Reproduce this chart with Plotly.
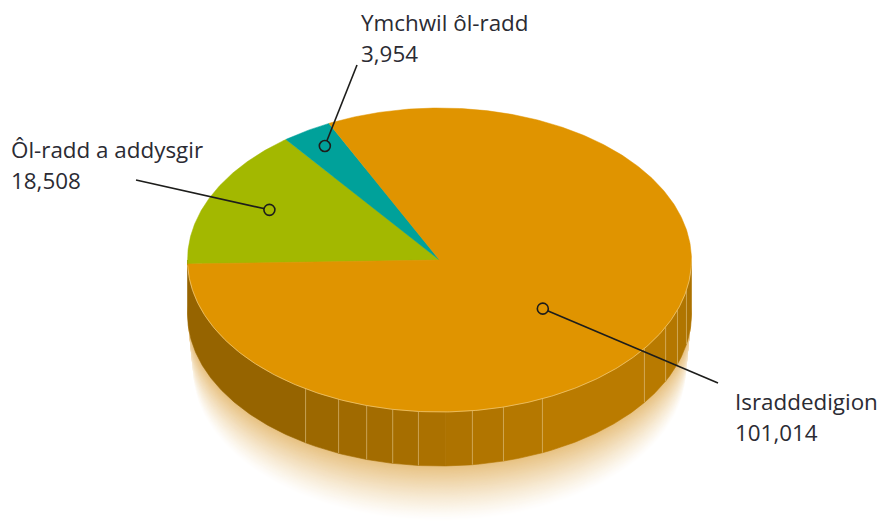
import numpy as np
import plotly.graph_objects as go

# Data
categories = ["Ôl-radd a addysgir", "Ymchwil ôl-radd", "Israddedigion"]
values = [18508, 3954, 101014]
slice_colors = ["#A3B800", "#00A19A", "#E09400"]
label_pos = [(12, 149), (361.5, 22), (735.5, 401)]
anchor_frac = [(-0.675, 0.33), (-0.455, 0.75), (0.41, -0.32)]
elbow = [(136, 180), (357, 65), (718, 383)]

# wall facets (parametric angle, degrees, anticlockwise from 3 o'clock; going left to right across the front)
wall_edges = [-180, -122.1, -113.6, -106.8, -100.7, -94.8, -88.6, -82.5, -75.3, -65.9, -35.6, -26.2, -19.2, -11.5, 0]
wall_colors = ["#966400", "#9C6800", "#A06A00", "#A36C00", "#A66E00", "#AB7100", "#AE7300", "#B17500",
               "#B57800", "#BA7B00", "#B87A00", "#B47700", "#B07500", "#AC7200"]
seamless = [-88.6]

CX, CY, RX, RY, DEPTH = 439.5, 260, 252, 152, 54
START = 181.5


def arc(a0, a1, dy=0.0, rx=RX, ry=RY, n=None):
    n = n or max(int(abs(a1 - a0)) * 2, 3)
    t = np.radians(np.linspace(a0, a1, n))
    return CX + rx * np.cos(t), CY + dy + ry * np.sin(-t)


fig = go.Figure()


def poly(x, y, color, line_w=0.0, line_color=None):
    fig.add_trace(go.Scatter(x=x, y=y, mode="lines", fill="toself", fillcolor=color,
                             line=dict(width=line_w, color=line_color or color),
                             hoverinfo="skip", showlegend=False))


# Soft glow under the disc: opaque rings from white outside to tan beside the wall
layers = 60
REACH = 58
GLOW = (212, 142, 24)
for i in range(layers):
    f = 1 - i / (layers - 1)
    d = REACH * f
    x, y = arc(0, 360, DEPTH + d, RX - 0.10 * d, RY - 0.04 * d, n=240)
    alpha = 0.55 * (1 - f) ** 1.25
    r, g, b = (round(255 - alpha * (255 - ch)) for ch in GLOW)
    poly(x.tolist(), y.tolist(), f"rgb({r},{g},{b})")

# Side wall
for a0, a1, c in zip(wall_edges[:-1], wall_edges[1:], wall_colors):
    xt, yt = arc(a0, a1)
    xb, yb = arc(a1, a0, DEPTH)
    poly(np.r_[xt, xb, xt[0]].tolist(), np.r_[yt, yb, yt[0]].tolist(), c, 0.6, c)

for a in wall_edges[1:-1]:
    if a in seamless:
        continue
    xt, yt = arc(a, a, n=2)
    xb, yb = arc(a, a, DEPTH, n=2)
    fig.add_trace(go.Scatter(x=[xt[0], xb[0]], y=[yt[0], yb[0]], mode="lines",
                             line=dict(width=1, color="rgba(232,205,150,0.55)"),
                             hoverinfo="skip", showlegend=False))

# Top face, slices from the values
total = sum(values)
a = START
for v, c in zip(values, slice_colors):
    sweep = 360 * v / total
    x, y = arc(a, a - sweep)
    poly(np.r_[CX, x, CX].tolist(), np.r_[CY, y, CY].tolist(), c, 0.5, c)
    a -= sweep

# Light rim on the front edge
xr, yr = arc(-178, 0)
fig.add_trace(go.Scatter(x=xr.tolist(), y=yr.tolist(), mode="lines",
                         line=dict(width=0.8, color="rgba(245,215,150,0.75)"),
                         hoverinfo="skip", showlegend=False))

# Leaders, rings and labels
for name, v, c, lp, fr, el in zip(categories, values, slice_colors, label_pos, anchor_frac, elbow):
    ax, ay = CX + fr[0] * RX, CY - fr[1] * RY
    fig.add_trace(go.Scatter(x=[el[0], ax], y=[el[1], ay], mode="lines",
                             line=dict(width=1.6, color="#1d1d1b"),
                             hoverinfo="skip", showlegend=False))
    fig.add_trace(go.Scatter(x=[ax], y=[ay], mode="markers",
                             marker=dict(size=11, color=c,
                                         line=dict(width=1.6, color="#1d1d1b")),
                             hoverinfo="skip", showlegend=False))
    for k, txt in enumerate([name, f"{v:,}"]):
        fig.add_annotation(x=lp[0], y=lp[1] + k * 31.5, text=txt, showarrow=False,
                           xanchor="left", yanchor="middle", xshift=-3,
                           font=dict(family="Open Sans", size=22.4, color="#2b2b33"))

fig.update_layout(
    width=877, height=522, autosize=False,
    margin=dict(l=0, r=0, t=0, b=0),
    paper_bgcolor="white", plot_bgcolor="white", showlegend=False,
    xaxis=dict(range=[0, 877], visible=False, fixedrange=True),
    yaxis=dict(range=[522, 0], visible=False, fixedrange=True),
)
fig.write_html("out.html", config={"displayModeBar": False},
               post_script="document.body.style.margin='0';document.body.style.overflow='hidden';")
